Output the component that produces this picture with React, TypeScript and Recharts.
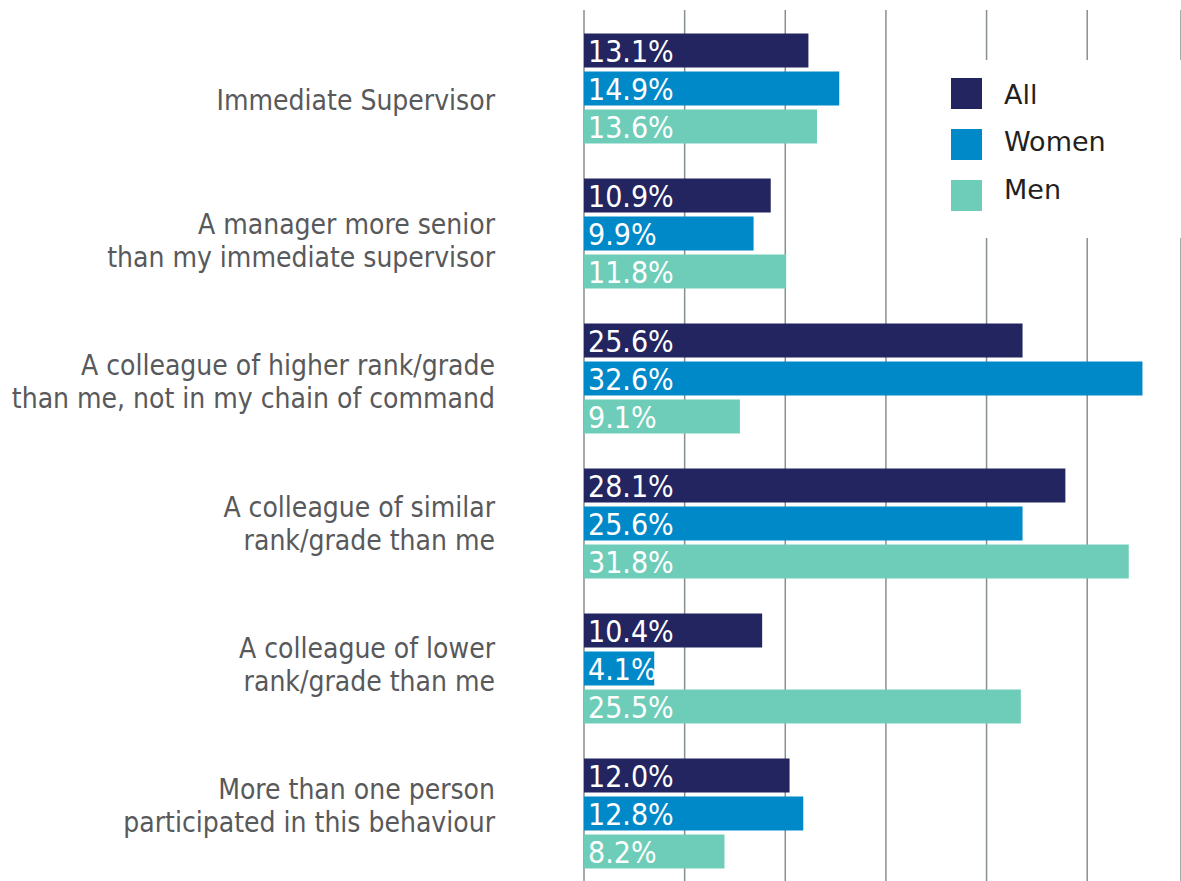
import { BarChart, Bar, XAxis, YAxis, CartesianGrid, LabelList } from 'recharts'

const categories = [
  'Immediate Supervisor',
  'A manager more senior\nthan my immediate supervisor',
  'A colleague of higher rank/grade\nthan me, not in my chain of command',
  'A colleague of similar\nrank/grade than me',
  'A colleague of lower\nrank/grade than me',
  'More than one person\nparticipated in this behaviour',
]
const allValues = [13.1, 10.9, 25.6, 28.1, 10.4, 12.0]
const womenValues = [14.9, 9.9, 32.6, 25.6, 4.1, 12.8]
const menValues = [13.6, 11.8, 9.1, 31.8, 25.5, 8.2]
const gridTicks = [0, 5.875, 11.75, 17.625, 23.5, 29.375]

const series = [
  { key: 'all', name: 'All', color: '#22255f' },
  { key: 'women', name: 'Women', color: '#0089c8' },
  { key: 'men', name: 'Men', color: '#6ecdb9' },
]

const data = categories.map((label, i) => ({
  label,
  all: allValues[i],
  women: womenValues[i],
  men: menValues[i],
}))

const condensed = "'DejaVu Sans Condensed', 'DejaVu Sans', sans-serif"

function CategoryTick(props: any) {
  const { y, payload, index } = props
  const lines = String(payload.value).split('\n')
  const lineHeight = 33
  // labels in the source sit a little tighter than the bar groups
  const shift = -(index - 2.5) * 3.8 + 2
  const startY = y + shift - ((lines.length - 1) * lineHeight) / 2
  return (
    <text
      x={495}
      y={startY}
      textAnchor="end"
      fill="#58595b"
      fontSize={28}
      fontFamily={condensed}
      style={{ fontStretch: 'condensed' }}
      dominantBaseline="central"
    >
      {lines.map((line, i) => (
        <tspan key={i} x={495} y={startY + i * lineHeight}>
          {line}
        </tspan>
      ))}
    </text>
  )
}

function ValueLabel(props: any) {
  const { x, y, height, value } = props
  return (
    <text
      x={x + 4}
      y={y + height / 2 + 1}
      fill="#ffffff"
      fontSize={30}
      fontFamily={condensed}
      style={{ fontStretch: 'condensed' }}
      dominantBaseline="central"
    >
      {Number(value).toFixed(1)}%
    </text>
  )
}

export default function App() {
  return (
    <div style={{ position: 'absolute', left: 0, top: 0, width: 1181, height: 881, overflow: 'hidden', background: '#fff' }}>
      <BarChart
        width={1181}
        height={890}
        data={data}
        layout="vertical"
        margin={{ top: 10, right: 0, bottom: 0, left: 0 }}
        barSize={34}
        barGap={4}
      >
        <CartesianGrid horizontal={false} vertical stroke="#87908f" strokeWidth={1.5} />
        <XAxis type="number" domain={[0, 34.85]} ticks={gridTicks} hide />
        <YAxis
          type="category"
          dataKey="label"
          width={584}
          axisLine={false}
          tickLine={false}
          padding={{ top: 5.5, bottom: 4.5 }}
          tick={<CategoryTick />}
          interval={0}
        />
        {series.map((s) => (
          <Bar key={s.key} dataKey={s.key} name={s.name} fill={s.color} isAnimationActive={false}>
            <LabelList dataKey={s.key} content={<ValueLabel />} />
          </Bar>
        ))}
      </BarChart>
      <div
        style={{
          position: 'absolute',
          left: 925,
          top: 60,
          width: 256,
          height: 178,
          background: '#fff',
        }}
      >
        {series.map((s, i) => (
          <div key={s.key}>
            <div style={{ position: 'absolute', left: 26, top: 18 + i * 51, width: 31, height: 31, background: s.color }} />
            <span
              style={{
                position: 'absolute',
                left: 79,
                top: 34.5 + i * 47.8 - 16,
                height: 32,
                fontSize: 27,
                color: '#231f20',
                fontFamily: "'DejaVu Sans', sans-serif",
                lineHeight: '32px',
                whiteSpace: 'nowrap',
              }}
            >
              {s.name}
            </span>
          </div>
        ))}
      </div>
    </div>
  )
}
